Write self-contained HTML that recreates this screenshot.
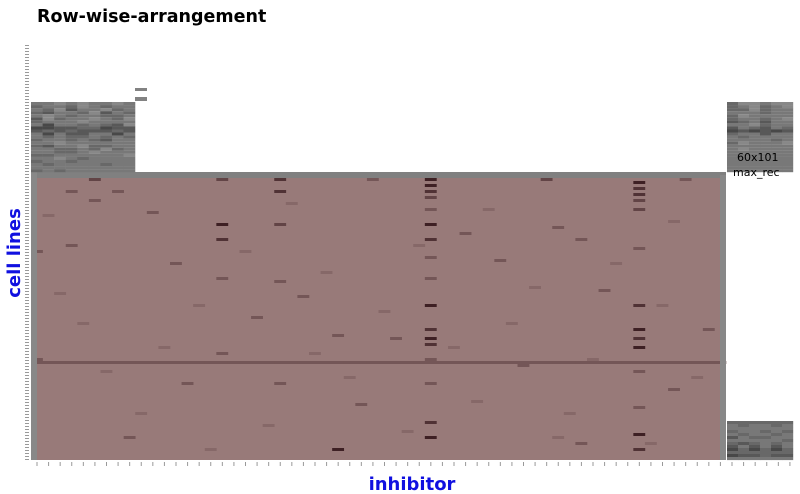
<!DOCTYPE html>
<html><head><meta charset="utf-8"><style>
body{margin:0;background:#fff;width:800px;height:494px;overflow:hidden}
svg{display:block}
text{font-family:"DejaVu Sans","Liberation Sans",sans-serif}
</style></head><body>
<svg id="c" width="800" height="494">
<text x="37" y="22" font-size="17.5" font-weight="bold" fill="#000">Row-wise-arrangement</text>
<text transform="translate(20,253) rotate(-90)" text-anchor="middle" font-size="18" font-weight="bold" fill="#1010e0">cell lines</text>
<text x="412" y="490" text-anchor="middle" font-size="18" font-weight="bold" fill="#1010e0">inhibitor</text>
<g id="cells"></g>
<g id="ticks"></g>
<text x="737" y="161" font-size="11" fill="#000">60x101</text>
<text x="733" y="176" font-size="11" fill="#000">max_rec</text>
</svg>
<script>
// main matrix: 60 inhibitors x 96 cell-line rows
const nCols = 60;
const nRows = 96;
const colBase = [5,5,5,5,5,5,5,5,5,5,5,5,5,5,5,5,5,5,5,5,5,5,5,5,5,5,5,5,5,5,5,5,5,5,5,5,5,5,5,5,5,5,5,5,5,5,5,5,5,5,5,5,5,5,5,5,5,5,5,5];
// marks: [col,row,level 0(dark)..5(base)]
const marks = [[34,2,0],[34,4,0],[34,6,1],[34,8,2],[34,17,0],[34,22,1],[34,28,3],[34,44,0],[34,52,1],[34,55,0],[34,57,1],[34,62,3],[34,83,1],[34,88,0],[34,12,3],[34,35,3],[34,70,3],
[52,1,0],[52,3,0],[52,5,1],[52,7,1],[52,9,2],[52,12,2],[52,44,1],[52,52,0],[52,55,1],[52,58,0],[52,87,0],[52,92,1],[52,25,3],[52,66,3],[52,78,3],
[16,2,2],[16,17,0],[16,22,1],[16,35,3],[16,60,3],[21,2,1],[21,6,1],[21,17,2],[21,36,3],[21,70,3],[26,92,0],[26,54,3],
[3,6,3],[3,24,3],[5,2,2],[5,9,3],[7,6,3],[10,13,3],[12,30,3],[19,48,3],[23,41,3],[29,2,3],[31,55,3],[37,20,3],[40,29,3],[44,2,2],[45,18,3],[47,22,3],[49,39,3],[56,2,3],[58,52,3],[55,72,3],[13,70,3],[8,88,3],[28,77,3],[42,64,3],[47,90,3],
[2,40,4],[4,50,4],[6,66,4],[9,80,4],[11,58,4],[14,44,4],[18,26,4],[20,84,4],[24,60,4],[25,33,4],[27,68,4],[30,46,4],[32,86,4],[36,58,4],[38,76,4],[39,12,4],[41,50,4],[43,38,4],[46,80,4],[48,62,4],[50,30,4],[53,90,4],[54,44,4],[57,68,4],[1,14,4],[15,92,4],[22,10,4],[33,24,4],[45,88,4],[55,16,4],[0,62,3],[0,26,3]];
const darkRows = [63];
// left block (9 cols) and right blocks (6 cols), digits = gray level 0..9
const leftBlock = ["556565565","455465455","546355645","435546354","565455445","364556546","455565555","525545436","223344233","343433343","525335525","545445454","455454355","556555555","435564455","554454645","554456555","445555556","556545555","455455555","545555455","555555555","454555555"];
const rightTop = ["466566","456456","446455","555455","465555","455456","345355","556455","354354","232323","455355","545555","555545","465556","555555","565555","555555","555555","555555","555555","555555","555555","555555"];
const rightBottom = ["444444","545545","555555","455454","545545","354455","555554","434545","353535","242424","444444","233433","555555"];

const cells = document.getElementById('cells');
const NS = 'http://www.w3.org/2000/svg';
const x0 = 31, cw = 695/nCols, yTop = 172, rh = 3;
const xScale = c => x0 + c*cw;
const yScale = r => yTop + r*rh;
function rect(x,y,w,h,fill,name){
  const r = document.createElementNS(NS,'rect');
  r.setAttribute('x',x);r.setAttribute('y',y);r.setAttribute('width',w);r.setAttribute('height',h);r.setAttribute('fill',fill);
  
  
  cells.appendChild(r);
}
const gray = v => { const g = 40 + v*16; return `rgb(${g},${g},${g})`; };
const pink = v => `rgb(${62+v*18},${32+v*18},${36+v*17})`;
const grid = [];
for (let r=0;r<nRows;r++){ grid.push(colBase.slice()); }
marks.forEach(m => { if (m[1]<nRows) grid[m[1]][m[0]] = m[2]; });
darkRows.forEach(dr => { for (let c=0;c<nCols;c++) grid[dr][c] = Math.min(grid[dr][c],3); });
rect(x0,yTop,695,nRows*rh,pink(5),'heatmap-background');
for (let r=0;r<nRows;r++) for (let c=0;c<nCols;c++){
  const v = grid[r][c];
  if (v<5) rect(xScale(c),yScale(r),cw+0.3,rh,pink(v),'heatmap-cell');
}
rect(x0,yTop,695,6,'rgb(128,128,128)','top-gray-strip');
rect(x0,yTop,6,nRows*rh,'rgb(136,136,136)','left-gray-strip');
rect(720,yTop+3,6,nRows*rh-3,'rgb(136,136,136)','right-gray-strip');
leftBlock.forEach((row,r)=>{ for (let c=0;c<row.length;c++) rect(x0+c*11.56,102+r*3.05,11.8,3.1,gray(+row[c]),'left-block-cell'); });
rect(135,88,12,3,'rgb(130,130,130)','marker-dash');
rect(135,97,12,4,'rgb(130,130,130)','marker-dash');
rightTop.forEach((row,r)=>{ for (let c=0;c<row.length;c++) rect(727+c*11,102+r*3.05,11.2,3.1,gray(+row[c]),'right-top-cell'); });
rightBottom.forEach((row,r)=>{ for (let c=0;c<row.length;c++) rect(727+c*11,421+r*3,11.2,3.1,gray(+row[c]),'right-bottom-cell'); });
const ticks = document.getElementById('ticks');
for (let y=45;y<=460;y+=3){
  const l=document.createElementNS(NS,'line');
  l.setAttribute('x1',25);l.setAttribute('x2',29);l.setAttribute('y1',y+0.5);l.setAttribute('y2',y+0.5);l.setAttribute('stroke','#999');
  
  
  ticks.appendChild(l);
}
for (let k=0;k<66;k++){
  const x = 37 + k*cw;
  if (x>795) break;
  const l=document.createElementNS(NS,'line');
  l.setAttribute('x1',x);l.setAttribute('x2',x);l.setAttribute('y1',462);l.setAttribute('y2',466);l.setAttribute('stroke','#999');
  
  
  ticks.appendChild(l);
}
</script>
</body></html>
